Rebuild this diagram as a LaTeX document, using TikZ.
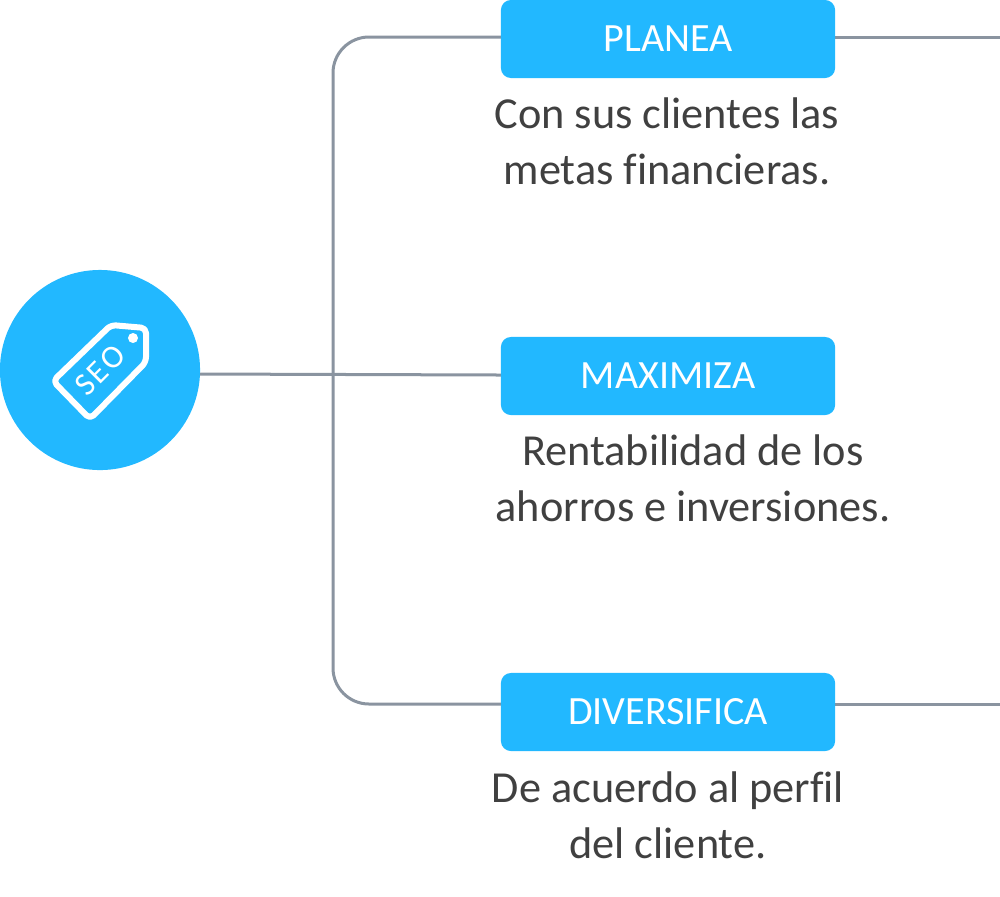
\documentclass[tikz,border=0pt]{standalone}
\usepackage{fontspec}
\setmainfont[Ligatures=CommonOff]{Carlito}
\definecolor{seoblue}{HTML}{22B8FF}
\definecolor{linegray}{HTML}{8A94A0}
\definecolor{textgray}{HTML}{404040}
\tikzstyle{stage}=[rounded corners=0.1cm, minimum width=3.34cm, minimum height=0.78cm, inner sep=0, fill=seoblue, text=white, font=\fontsize{11.4}{13}\selectfont]
\tikzstyle{note}=[align=center, inner sep=0, text=textgray, font=\fontsize{12.6}{15.9}\selectfont]
\tikzstyle{link}=[linegray, line width=0.03cm]

\begin{document}
\begin{tikzpicture}[x=0.01cm, y=-0.01cm]

\useasboundingbox (0, 0) rectangle (1000, 896);

\coordinate (top) at (333, 37);
\coordinate (bot) at (333, 704);
\coordinate (planeaL) at (501, 37);
\coordinate (planeaR) at (835, 37);
\coordinate (maximizaL) at (501, 375);
\coordinate (diversificaL) at (501, 704);
\coordinate (diversificaR) at (835, 704);
\coordinate (endtop) at (1000, 37);
\coordinate (endbot) at (1000, 704);
\coordinate (seoR) at (200, 374);

\draw [link, rounded corners=0.36cm] (planeaL) -- (top) -- (bot) -- (diversificaL);
\draw [link] (seoR) -- (maximizaL);
\draw [link] (planeaR) -- (endtop);
\draw [link] (diversificaR) -- (endbot);

\node [circle, minimum size=2cm, inner sep=0, fill=seoblue] (seo) at (100, 370) {};

\node [stage] (planea) at (668, 39) {PLANEA};
\node [stage] (maximiza) at (668, 376) {MAXIMIZA};
\node [stage] (diversifica) at (668, 712) {DIVERSIFICA};

\node [note] (planeaT) at (667, 141) {Con sus clientes las\\metas financieras.};
\node [note] (maximizaT) at (693, 478) {Rentabilidad de los\\ahorros e inversiones.};
\node [note] (diversificaT) at (668, 815) {De acuerdo al perfil\\del cliente.};

% price tag
\draw [white, line width=0.06cm, rounded corners=0.05cm, line join=round] (53, 381) -- (90, 419) -- (146, 362) -- (146, 328) -- (111, 325) -- cycle;
\fill [white] (133, 338) circle (0.05cm);
\node [rotate=45, text=white, inner sep=0, font=\fontsize{9.2}{11}\selectfont\addfontfeature{LetterSpace=8}] (seotext) at (100, 370) {SEO};

\end{tikzpicture}
\end{document}
